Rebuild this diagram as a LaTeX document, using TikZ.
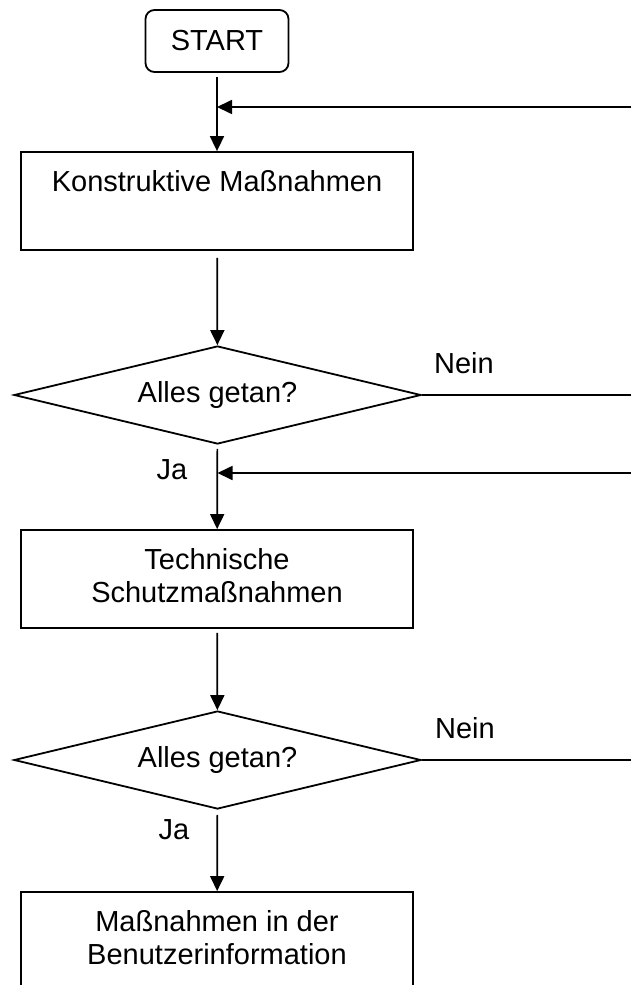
\documentclass[tikz,border=0pt]{standalone}
\usepackage{fontspec}
\setmainfont{Liberation Sans}
\usetikzlibrary{shapes.geometric,arrows.meta,calc}
\newcommand{\liftup}{\\[-25pt]\mbox{}}
\begin{document}
\begin{tikzpicture}[x=1pt,y=-1pt,
  every node/.style={font=\fontsize{29}{33}\selectfont, inner sep=0pt},
  proc/.style={draw, line width=1.8pt, minimum width=392pt, minimum height=98pt, align=center},
  term/.style={draw, line width=1.8pt, rounded corners=9pt, minimum width=143pt, minimum height=62pt},
  decision/.style={draw, diamond, line width=1.8pt, minimum width=407pt, minimum height=98pt, shape aspect=4.15},
  flow/.style={line width=1.7pt, -{Triangle[length=15pt,width=14pt]}},
  plain/.style={line width=1.7pt}]
\useasboundingbox (0,0) rectangle (631,985);

\node[term] (start) at (217,41) {START};
\node[proc] (k1) at (217,201) {Konstruktive Maßnahmen\\ \mbox{}\liftup};
\node[decision] (d1) at (217.5,395) {Alles getan?};
\node[proc] (k2) at (217,579) {Technische\\Schutzmaßnahmen\liftup};
\node[decision] (d2) at (217.5,760) {Alles getan?};
\node[proc] (k3) at (217,941) {Maßnahmen in der\\Benutzerinformation\liftup};

\node (n1) at (464,363) {Nein};
\node (j1) at (172,470) {Ja};
\node (n2) at (465,728) {Nein};
\node (j2) at (174,830) {Ja};

\draw[flow, shorten <=4pt] (start) -- (k1);
\draw[flow, shorten <=7pt] (k1) -- (d1);
\draw[flow, shorten <=4pt] (d1) -- (k2);
\draw[flow, shorten <=4pt] (k2) -- (d2);
\draw[flow, shorten <=5pt] (d2) -- (k3);

\coordinate (e1) at (631,107);
\coordinate (e2) at (631,473);
\draw[flow] (e1) -- (e1 -| start.south);
\draw[plain] (d1.east) -- (d1.east -| e1);
\draw[flow] (e2) -- (e2 -| d1.south);
\draw[plain] (d2.east) -- (d2.east -| e1);
\end{tikzpicture}
\end{document}
